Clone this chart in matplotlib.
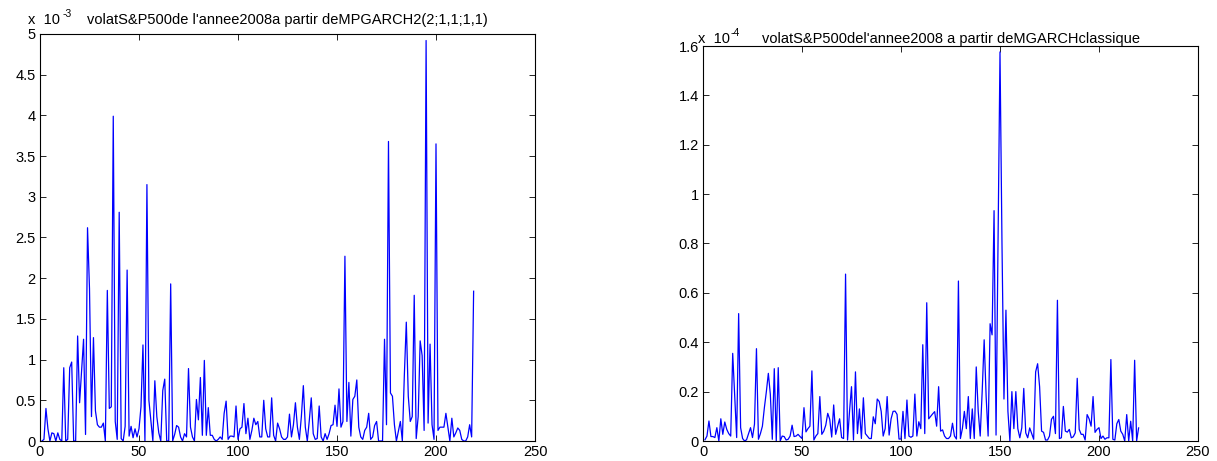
import numpy as np
import matplotlib
matplotlib.use("Agg")
import matplotlib.pyplot as plt
from matplotlib.ticker import FuncFormatter, MultipleLocator

plt.rcParams['font.family'] = ['Liberation Sans', 'DejaVu Sans']

# Daily volatility estimates, S&P500, year 2008 (left in 1e-3 units, right in 1e-4 units)
vol_mpgarch = [
    0.00, 0.02, 0.40, 0.15, 0.00, 0.10, 0.09, 0.00, 0.10, 0.02,
    0.00, 0.90, 0.00, 0.02, 0.90, 0.97, 0.00, 0.00, 1.29, 0.47,
    0.85, 1.25, 0.08, 2.62, 1.87, 0.30, 1.27, 0.37, 0.20, 0.17,
    0.17, 0.22, 0.00, 1.85, 0.40, 0.42, 3.99, 0.24, 0.02, 2.81,
    0.03, 0.00, 0.18, 2.10, 0.06, 0.18, 0.04, 0.15, 0.05, 0.15,
    0.42, 1.18, 0.00, 3.15, 0.50, 0.25, 0.00, 0.74, 0.30, 0.10,
    0.00, 0.62, 0.76, 0.00, 0.00, 1.93, 0.00, 0.08, 0.19, 0.17,
    0.05, 0.00, 0.09, 0.05, 0.89, 0.17, 0.05, 0.00, 0.51, 0.26,
    0.78, 0.07, 0.99, 0.07, 0.41, 0.07, 0.07, 0.02, 0.00, 0.02,
    0.05, 0.02, 0.34, 0.49, 0.02, 0.06, 0.06, 0.05, 0.43, 0.02,
    0.15, 0.17, 0.46, 0.09, 0.28, 0.02, 0.13, 0.28, 0.20, 0.24,
    0.05, 0.05, 0.50, 0.15, 0.05, 0.05, 0.53, 0.07, 0.00, 0.22,
    0.15, 0.05, 0.02, 0.02, 0.05, 0.33, 0.05, 0.20, 0.47, 0.17,
    0.02, 0.30, 0.68, 0.17, 0.00, 0.25, 0.53, 0.09, 0.02, 0.03,
    0.43, 0.05, 0.00, 0.09, 0.02, 0.09, 0.19, 0.20, 0.44, 0.18,
    0.64, 0.17, 0.24, 2.27, 0.24, 0.72, 0.06, 0.51, 0.55, 0.75,
    0.17, 0.05, 0.02, 0.13, 0.17, 0.34, 0.02, 0.05, 0.19, 0.24,
    0.00, 0.00, 0.00, 1.25, 0.20, 3.68, 0.59, 0.55, 0.20, 0.00,
    0.12, 0.24, 0.00, 0.80, 1.46, 0.55, 0.24, 0.30, 1.79, 0.03,
    0.30, 1.23, 1.05, 0.13, 4.92, 0.22, 1.19, 0.20, 0.02, 3.65,
    0.13, 0.17, 0.17, 0.17, 0.34, 0.17, 0.00, 0.28, 0.05, 0.10,
    0.16, 0.13, 0.02, 0.00, 0.00, 0.05, 0.20, 0.05, 1.84,
]

vol_mgarch = [
    0.005, 0.020, 0.081, 0.018, 0.018, 0.014, 0.054, 0.000, 0.090, 0.027,
    0.077, 0.047, 0.030, 0.020, 0.355, 0.180, 0.014, 0.516, 0.054, 0.010,
    0.000, 0.005, 0.030, 0.054, 0.014, 0.068, 0.374, 0.007, 0.030, 0.060,
    0.135, 0.200, 0.274, 0.190, 0.007, 0.293, 0.000, 0.297, 0.000, 0.020,
    0.018, 0.004, 0.007, 0.020, 0.064, 0.018, 0.020, 0.027, 0.018, 0.010,
    0.135, 0.037, 0.050, 0.060, 0.284, 0.004, 0.020, 0.030, 0.180, 0.027,
    0.040, 0.064, 0.112, 0.088, 0.016, 0.146, 0.027, 0.060, 0.090, 0.014,
    0.010, 0.676, 0.004, 0.120, 0.220, 0.004, 0.280, 0.030, 0.130, 0.010,
    0.175, 0.030, 0.020, 0.010, 0.010, 0.098, 0.070, 0.170, 0.160, 0.120,
    0.020, 0.050, 0.180, 0.024, 0.090, 0.120, 0.121, 0.108, 0.008, 0.008,
    0.120, 0.010, 0.166, 0.020, 0.015, 0.020, 0.190, 0.020, 0.078, 0.050,
    0.390, 0.030, 0.560, 0.090, 0.100, 0.110, 0.119, 0.060, 0.220, 0.040,
    0.045, 0.020, 0.010, 0.010, 0.020, 0.072, 0.020, 0.008, 0.648, 0.010,
    0.050, 0.120, 0.050, 0.180, 0.010, 0.130, 0.010, 0.300, 0.120, 0.020,
    0.200, 0.410, 0.180, 0.020, 0.475, 0.430, 0.933, 0.024, 0.800, 1.576,
    0.800, 0.170, 0.530, 0.120, 0.000, 0.200, 0.050, 0.200, 0.050, 0.013,
    0.053, 0.213, 0.033, 0.013, 0.053, 0.030, 0.007, 0.280, 0.313, 0.220,
    0.040, 0.035, 0.004, 0.004, 0.020, 0.088, 0.100, 0.030, 0.570, 0.010,
    0.013, 0.140, 0.040, 0.036, 0.047, 0.013, 0.017, 0.033, 0.254, 0.047,
    0.027, 0.027, 0.004, 0.107, 0.090, 0.060, 0.180, 0.035, 0.047, 0.054,
    0.010, 0.020, 0.007, 0.013, 0.013, 0.330, 0.007, 0.004, 0.070, 0.087,
    0.040, 0.027, 0.000, 0.107, 0.000, 0.080, 0.000, 0.327, 0.000, 0.053,
]

titles = [
    "volatS&P500de l'annee2008a partir deMPGARCH2(2;1,1;1,1)",
    "volatS&P500del'annee2008 a partir deMGARCHclassique",
]
exponents = ["-3", "-4"]
y_limits = [5.0, 1.6]
y_steps = [0.5, 0.2]
x_ticks = [0, 50, 100, 150, 200, 250]

W, H = 1217, 461
fig = plt.figure(figsize=(W / 100, H / 100), dpi=100, facecolor='white')

# axes boxes in pixel coordinates: left, top, right, bottom
boxes = [(40, 34, 535, 441), (703, 46, 1198, 441)]
title_y = [20, 39]
exp_x = [28, 698]
exp_gap = [35, 33]

fmt = FuncFormatter(lambda v, p: ('%g' % round(v, 6)))

for i, series in enumerate([vol_mpgarch, vol_mgarch]):
    l, t, r, b = boxes[i]
    ax = fig.add_axes([l / W, (H - b) / H, (r - l) / W, (b - t) / H])
    x = np.arange(1, len(series) + 1)
    ax.plot(x, series, color=(0, 0, 1), linewidth=0.9)
    ax.set_xlim(0, 250)
    ax.set_ylim(0, y_limits[i])
    ax.set_xticks(x_ticks)
    ax.yaxis.set_major_locator(MultipleLocator(y_steps[i]))
    ax.yaxis.set_major_formatter(fmt)
    ax.xaxis.set_major_formatter(fmt)
    ax.tick_params(direction='in', length=4, width=0.6, top=True, right=True,
                   labelsize=10.5, pad=3, colors='black')
    for s in ax.spines.values():
        s.set_linewidth(0.8)
        s.set_color('black')
    # exponent label and title above the axes
    fig.text(exp_x[i] / W, (H - title_y[i]) / H, "x  10", fontsize=10.5,
             ha='left', va='center')
    fig.text((exp_x[i] + exp_gap[i]) / W, (H - title_y[i] + 6) / H,
             exponents[i], fontsize=7.5, ha='left', va='center')
    fig.text((l + r) / 2 / W, (H - title_y[i]) / H, titles[i], fontsize=10.5,
             ha='center', va='center')

fig.savefig('out.png', dpi=100, facecolor='white')
